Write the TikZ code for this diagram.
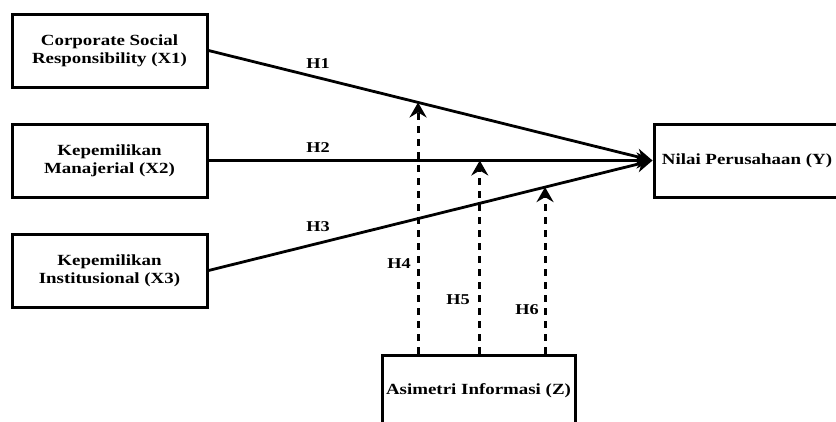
\documentclass[tikz,border=0pt]{standalone}
\usepackage{fontspec}
\setmainfont{Liberation Serif}[FakeStretch=1.22]
\usetikzlibrary{arrows.meta,calc}
\begin{document}
\begin{tikzpicture}[x=1pt,y=-1pt,
  box/.style={draw,line width=3pt,minimum width=195pt,minimum height=73pt,inner sep=0pt,
    align=center,font=\fontsize{15.5}{18.3}\selectfont\bfseries},
  mainline/.style={line width=2.8pt,-{Stealth[length=16pt,width=16pt,inset=5pt]}},
  dasharrow/.style={line width=3pt,dash pattern=on 7pt off 6pt,-{Stealth[length=15pt,width=17pt,inset=5pt]}},
  hlabel/.style={font=\fontsize{15}{17}\selectfont\bfseries,inner sep=0pt}]
\useasboundingbox (0,0) rectangle (836,421);
\fill[white] (0,0) rectangle (836,421);
\node[box] (x1) at (109.5,50.5) {Corporate Social\\Responsibility (X1)};
\node[box] (x2) at (109.5,160.5) {Kepemilikan\\Manajerial (X2)};
\node[box] (x3) at (109.5,270.5) {Kepemilikan\\Institusional (X3)};
\node[box,minimum width=186pt] (y) at (747,160.5) {Nilai Perusahaan (Y)};
\node[box,minimum width=193pt,minimum height=72pt] (z) at (478.5,391) {Asimetri Informasi (Z)};
\coordinate (tip) at (y.west);
\draw[mainline] (x1.east) -- (tip);
\draw[mainline] (x2.east) -- (tip);
\draw[mainline] (x3.east) -- (tip);
\coordinate (p4) at ($(x1.east)!0.472!(tip)$);
\coordinate (p5) at ($(x2.east)!0.611!(tip)$);
\coordinate (p6) at ($(x3.east)!0.758!(tip)$);
\draw[dasharrow] (p4 |- z.north) -- (p4);
\draw[dasharrow] (p5 |- z.north) -- (p5);
\draw[dasharrow] (p6 |- z.north) -- (p6);
\node[hlabel] (h1) at (318,64) {H1};
\node[hlabel] (h2) at (318,148) {H2};
\node[hlabel] (h3) at (318,227) {H3};
\node[hlabel] (h4) at (399,264) {H4};
\node[hlabel] (h5) at (458,300) {H5};
\node[hlabel] (h6) at (527,310) {H6};
\end{tikzpicture}
\end{document}
